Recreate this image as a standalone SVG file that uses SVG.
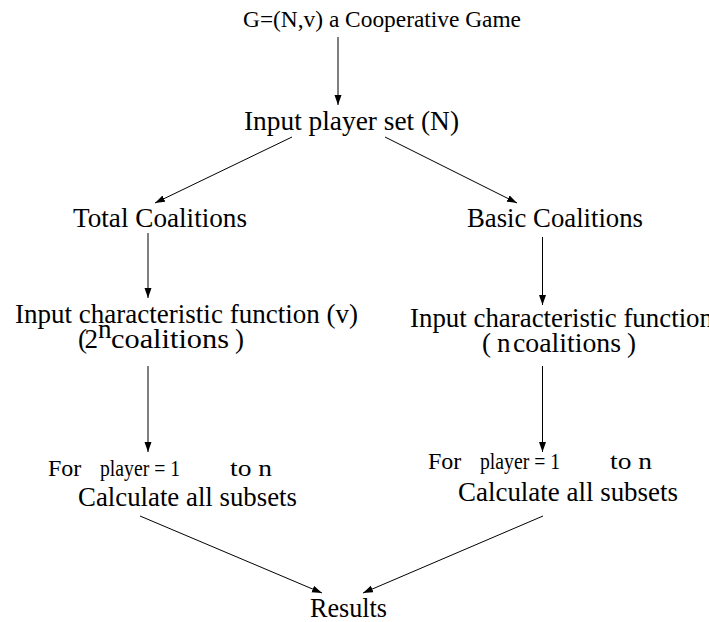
<svg xmlns="http://www.w3.org/2000/svg" width="709" height="622" viewBox="0 0 709 622">
<style>
text { font-family: 'Liberation Serif', 'Times New Roman', serif; fill: #000; font-size: 27px; }
text.t23 { font-size: 23px; }
text.t24 { font-size: 24px; }
.c line { stroke: #000; stroke-width: 1; fill: none; marker-end: url(#ah); }
</style>
<defs>
<marker id="ah" markerUnits="userSpaceOnUse" markerWidth="11" markerHeight="8" refX="10" refY="3.5" orient="auto">
<path d="M0,0 L10,3.5 L0,7 z" fill="#000"/>
</marker>
</defs>
<rect width="709" height="622" fill="#fff"/>
<g id="game"><text class="t23" x="243" y="27" textLength="278" lengthAdjust="spacingAndGlyphs">G=(N,v) a Cooperative Game</text></g>
<g id="input-players"><text x="244" y="130" textLength="215" lengthAdjust="spacingAndGlyphs">Input player set (N)</text></g>
<g id="total"><text x="73" y="227" textLength="174" lengthAdjust="spacingAndGlyphs">Total Coalitions</text></g>
<g id="basic"><text x="467" y="227" textLength="176" lengthAdjust="spacingAndGlyphs">Basic Coalitions</text></g>
<g id="charfn-left">
<text x="15" y="323" textLength="343" lengthAdjust="spacingAndGlyphs">Input characteristic function (v)</text>
<text x="78" y="348" textLength="20" lengthAdjust="spacing">( 2</text>
<text x="98" y="338" font-size="18">n</text>
<text x="111" y="348" textLength="118" lengthAdjust="spacingAndGlyphs">coalitions</text>
<text x="235" y="348">)</text>
</g>
<g id="charfn-right">
<text x="410" y="327" textLength="303" lengthAdjust="spacingAndGlyphs">Input characteristic function</text>
<text x="482" y="352">(</text>
<text x="497" y="352">n</text>
<text x="513" y="352" textLength="108" lengthAdjust="spacingAndGlyphs">coalitions</text>
<text x="627" y="352">)</text>
</g>
<g id="loop-left">
<text class="t24" x="48" y="476">For</text>
<text class="t24" x="100" y="476" textLength="80" lengthAdjust="spacingAndGlyphs">player = 1</text>
<text class="t24" x="230" y="476" textLength="42" lengthAdjust="spacingAndGlyphs">to n</text>
<text x="78" y="506" textLength="219" lengthAdjust="spacingAndGlyphs">Calculate all subsets</text>
</g>
<g id="loop-right">
<text class="t24" x="428" y="469">For</text>
<text class="t24" x="480" y="469" textLength="80" lengthAdjust="spacingAndGlyphs">player = 1</text>
<text class="t24" x="610" y="469" textLength="42" lengthAdjust="spacingAndGlyphs">to n</text>
<text x="458" y="501" textLength="220" lengthAdjust="spacingAndGlyphs">Calculate all subsets</text>
</g>
<g id="results"><text x="310" y="617" textLength="77" lengthAdjust="spacingAndGlyphs">Results</text></g>
<g id="connectors" class="c">
<line x1="338" y1="37" x2="338" y2="105"/>
<line x1="292" y1="137" x2="155" y2="203"/>
<line x1="385" y1="137" x2="517" y2="203"/>
<line x1="148" y1="233" x2="148" y2="298"/>
<line x1="542.5" y1="237" x2="542.5" y2="305"/>
<line x1="148" y1="366" x2="148" y2="452"/>
<line x1="542.5" y1="366" x2="542.5" y2="452"/>
<line x1="140" y1="516" x2="322" y2="593"/>
<line x1="543" y1="516" x2="363" y2="593"/>
</g>
</svg>
